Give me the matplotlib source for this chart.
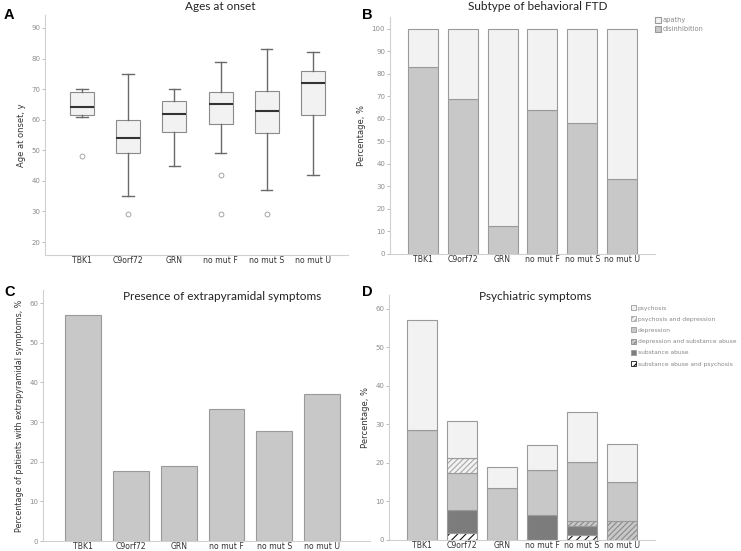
"""
Four-panel FTD summary figure: onset ages, bvFTD subtype,
extrapyramidal and psychiatric symptoms per genetic group.
"""

import matplotlib
matplotlib.use("Agg")
import matplotlib.pyplot as plt
from matplotlib.patches import Patch

plt.rcParams["font.family"] = ["DejaVu Sans"]
plt.rcParams["hatch.linewidth"] = 0.8

groups = ["TBK1", "C9orf72", "GRN", "no mut F", "no mut S", "no mut U"]

# A: box stats
age_whislo = [61, 35, 45, 49, 37, 42]
age_q1 = [61.5, 49, 56, 58.5, 55.5, 61.5]
age_med = [64, 54, 62, 65, 63, 72]
age_q3 = [69, 60, 66, 69, 69.5, 76]
age_whishi = [70, 75, 70, 79, 83, 82]
age_fliers = [[48], [29], [], [42, 29], [29], []]

# B: behavioral subtype, %
disinhibition = [83.3, 69.0, 12.5, 64.0, 58.3, 33.3]
apathy = [100 - v for v in disinhibition]

# C: extrapyramidal symptoms, %
extrapyr = [57.1, 17.6, 18.9, 33.3, 27.8, 37.0]

# D: psychiatric symptoms, % (stacked bottom -> top)
sa_psychosis = [0, 1.9, 0, 0, 1.2, 0]
substance = [0, 5.8, 0, 6.6, 2.5, 0]
dep_substance = [0, 0, 0, 0, 1.2, 5.0]
depression = [28.6, 9.6, 13.5, 11.5, 15.4, 10.0]
psy_depression = [0, 3.9, 0, 0, 0, 0]
psychosis = [28.5, 9.6, 5.4, 6.5, 13.0, 10.0]

LIGHT = "#f2f2f2"
MID = "#c8c8c8"
DARK = "#7c7c7c"
EDGE = "#9a9a9a"
TICK = "#8c8c8c"
TITLE_FONT = ["Lato", "DejaVu Sans"]
W, H = 741, 551

pos = list(range(1, len(groups) + 1))


def style_axis(ax, ylabel, yticks):
    for s in ("top", "right"):
        ax.spines[s].set_visible(False)
    for s in ("left", "bottom"):
        ax.spines[s].set_color("#d0d0d0")
        ax.spines[s].set_linewidth(0.8)
    ax.set_yticks(yticks)
    ax.tick_params(axis="y", labelsize=5, colors="#bbbbbb", labelcolor=TICK,
                   length=2.5, width=0.7, pad=1)
    ax.tick_params(axis="x", labelsize=5.6, length=0, pad=0.8, labelcolor="#333")
    ax.set_xticks(pos)
    ax.set_xticklabels(groups)
    ax.set_ylabel(ylabel, fontsize=6, color="#333", labelpad=4)


def title_at(text, x, y):
    fig.text(x / W, 1 - y / H, text, fontsize=8.5, family=TITLE_FONT,
             ha="center", va="center", color="#222")


def legend_at(handles, x, y, spacing, size):
    fig.legend(handles, [h.get_label() for h in handles], loc="upper left",
               bbox_to_anchor=(x / W, 1 - y / H), frameon=False,
               fontsize=size, labelcolor="#888", handlelength=0.9,
               handleheight=0.9, handletextpad=0.25, labelspacing=spacing,
               borderaxespad=0, borderpad=0)


fig = plt.figure(figsize=(7.41, 5.51), dpi=100)

# ── A: Ages at onset ──
axA = fig.add_axes([45 / W, 1 - 255 / H, 303 / W, 240 / H])
stats = []
for i in range(len(groups)):
    stats.append({"whislo": age_whislo[i], "q1": age_q1[i], "med": age_med[i],
                  "q3": age_q3[i], "whishi": age_whishi[i],
                  "fliers": age_fliers[i]})
axA.bxp(stats, positions=pos, widths=0.52, patch_artist=True,
        boxprops=dict(facecolor=LIGHT, edgecolor="#8a8a8a", linewidth=0.8),
        medianprops=dict(color="#333333", linewidth=1.5),
        whiskerprops=dict(color="#6a6a6a", linewidth=1.0),
        capprops=dict(color="#6a6a6a", linewidth=1.0),
        flierprops=dict(marker="o", markersize=3.5, markerfacecolor="none",
                        markeredgecolor="#999999", markeredgewidth=0.6),
        capwidths=0.25)
axA.set_xlim(0.2, 6.76)
axA.set_ylim(15.75, 94.25)
style_axis(axA, "Age at onset, y", range(20, 91, 10))
title_at("Ages at onset", 220, 7)

# ── B: Subtype of behavioral FTD ──
axB = fig.add_axes([390 / W, 1 - 254 / H, 265 / W, 237 / H])
axB.bar(pos, disinhibition, width=0.75, color=MID, edgecolor=EDGE,
        linewidth=0.8, label="disinhibition")
axB.bar(pos, apathy, bottom=disinhibition, width=0.75, color=LIGHT,
        edgecolor=EDGE, linewidth=0.8, label="apathy")
axB.set_xlim(0.17, 6.83)
axB.set_ylim(0, 105.3)
style_axis(axB, "Percentage, %", range(0, 101, 10))
title_at("Subtype of behavioral FTD", 538, 7)
hB, _ = axB.get_legend_handles_labels()
legend_at(hB[::-1], 655, 17, 0.45, 4.8)

# ── C: Presence of extrapyramidal symptoms ──
axC = fig.add_axes([43 / W, 1 - 541 / H, 327 / W, 251 / H])
axC.bar(pos, extrapyr, width=0.75, color=MID, edgecolor=EDGE, linewidth=0.8)
axC.set_xlim(0.163, 7.0)
axC.set_ylim(0, 63.3)
style_axis(axC, "Percentage of patients with extrapyramidal symptoms, %",
           range(0, 61, 10))
axC.yaxis.label.set_fontsize(5.8)
title_at("Presence of extrapyramidal symptoms", 222, 296)

# ── D: Psychiatric symptoms ──
axD = fig.add_axes([389 / W, 1 - 540 / H, 266 / W, 245 / H])
layers = [
    ("substance abuse and psychosis", sa_psychosis, "white", "////", "#111111"),
    ("substance abuse", substance, DARK, None, DARK),
    ("depression and substance abuse", dep_substance, MID, "//////", "#8a8a8a"),
    ("depression", depression, MID, None, MID),
    ("psychosis and depression", psy_depression, LIGHT, "//////", "#a8a8a8"),
    ("psychosis", psychosis, LIGHT, None, LIGHT),
]
bottom = [0] * len(groups)
handles = []
for label, vals, fc, hatch, hc in layers:
    axD.bar(pos, vals, bottom=bottom, width=0.75, color=fc, edgecolor=hc,
            hatch=hatch, linewidth=0)
    axD.bar(pos, vals, bottom=bottom, width=0.75, fill=False, edgecolor=EDGE,
            linewidth=0.8)
    handles.append(Patch(facecolor=fc, edgecolor=hc if hatch else EDGE,
                         hatch=hatch, linewidth=0.6, label=label))
    bottom = [b + v for b, v in zip(bottom, vals)]
axD.set_xlim(0.17, 6.83)
axD.set_ylim(0, 63.6)
style_axis(axD, "Percentage, %", range(0, 61, 10))
title_at("Psychiatric symptoms", 535, 296)
legend_at(handles[::-1], 631, 305, 0.95, 4.3)

# panel letters
for letter, x, y in [("A", 4, 8), ("B", 362, 8), ("C", 4, 285),
                     ("D", 362, 285)]:
    fig.text(x / W, 1 - y / H, letter, fontsize=10.5, fontweight="bold",
             family=["Liberation Sans", "DejaVu Sans"], va="top")

fig.savefig("out.png", dpi=100, facecolor="white")
plt.close(fig)
